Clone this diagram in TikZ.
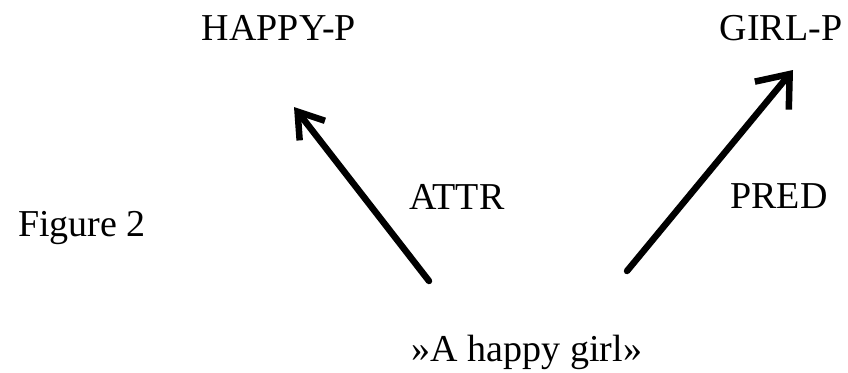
\documentclass[tikz,border=0pt]{standalone}
\usepackage{fontspec}
\setmainfont{Liberation Serif}
\usetikzlibrary{arrows.meta}
\begin{document}
\begin{tikzpicture}[x=1pt,y=-1pt,
  lbl/.style={font=\fontsize{38}{42}\selectfont, inner sep=0pt, anchor=base},
  arr/.style={line width=6.5pt, line cap=round, line join=round}]
\useasboundingbox (0,0) rectangle (848,372);
\node[lbl] (happy) at (279,40) {HAPPY-P};
\node[lbl] (girl) at (781,40) {GIRL-P};
\node[lbl] (fig) at (82,236) {Figure 2};
\node[lbl] (attr) at (457,209) {ATTR};
\node[lbl] (pred) at (779,208) {PRED};
\node[lbl] (phrase) at (527,361) {»A happy girl»};
\coordinate (s1) at (429,281);
\coordinate (t1) at (294,107);
\coordinate (s2) at (627,271);
\coordinate (t2) at (793,70);
\draw[arr, -{Straight Barb[length=24pt,width=32pt,line width=6.5pt]}] (s1) -- (t1);
\draw[arr, -{Straight Barb[length=28pt,width=44pt,line width=6.5pt]}] (s2) -- (t2);
\end{tikzpicture}
\end{document}
